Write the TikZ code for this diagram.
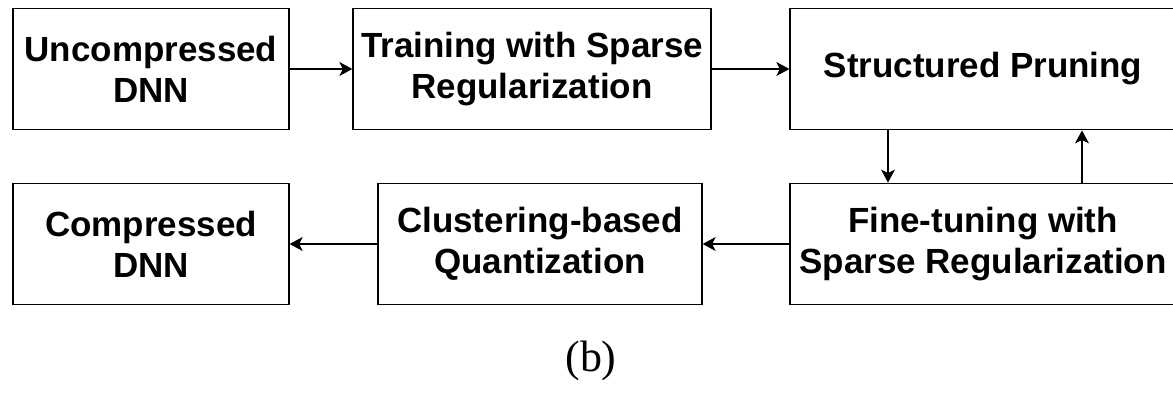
\documentclass[tikz,border=0pt]{standalone}
\usepackage{fontspec}
\setmainfont{Liberation Serif}
\setsansfont{Liberation Sans}
\usetikzlibrary{arrows.meta,positioning,calc}

\begin{document}
\begin{tikzpicture}[x=0.02cm, y=-0.02cm,
  blk/.style={draw, line width=0.8pt, inner sep=0pt, align=center,
    minimum height=2.43cm,
    font=\sffamily\bfseries\fontsize{19.9}{23.3}\selectfont},
  arr/.style={-{Stealth[length=0.26cm, width=0.28cm, inset=0.07cm]}, line width=0.6pt}]
\clip (0,0) rectangle (1173,395);
% top row
\node[blk, minimum width=5.52cm] (unc) at (151,69) {Uncompressed\\DNN};
\node[blk, minimum width=7.16cm] (train) at (532,69) {Training with Sparse\\Regularization};
\node[blk, minimum width=7.72cm] (prune) at (983,69) {Structured Pruning};
% bottom row
\node[blk, minimum width=7.72cm] (ft) at (983,244) {Fine-tuning with\\Sparse Regularization};
\node[blk, minimum width=6.48cm] (clust) at (540,244) {Clustering-based\\Quantization};
\node[blk, minimum width=5.52cm] (comp) at (151,244) {Compressed\\DNN};
\foreach \a/\b in {unc/train, train/prune}{
  \draw[arr] (\a.east) -- (\b.west);}
\foreach \a/\b in {ft/clust, clust/comp}{
  \draw[arr] (\a.west) -- (\b.east);}
\draw[arr] ($(prune.south)+(-95,0)$) -- ($(ft.north)+(-95,0)$);
\draw[arr] ($(ft.north)+(99,0)$) -- ($(prune.south)+(99,0)$);
\node (cap) at (591,361) {\fontsize{25}{29}\selectfont (b)};
\end{tikzpicture}
\end{document}
